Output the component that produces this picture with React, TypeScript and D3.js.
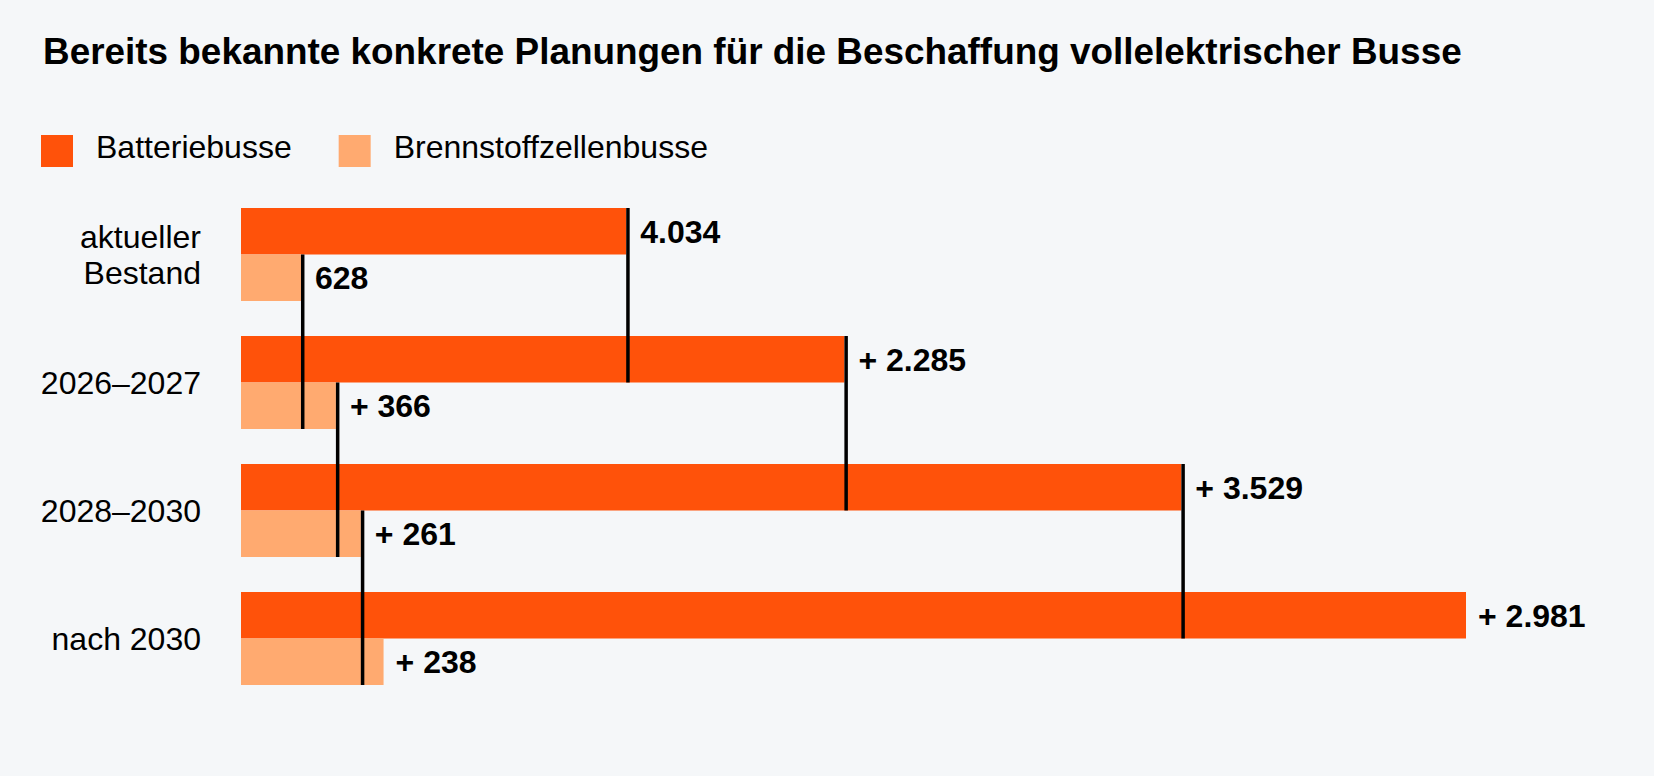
import { useEffect, useRef } from "react";
import * as d3 from "d3";

const title = "Bereits bekannte konkrete Planungen für die Beschaffung vollelektrischer Busse";
const seriesNames = ["Batteriebusse", "Brennstoffzellenbusse"];
const categories = ["aktueller Bestand", "2026–2027", "2028–2030", "nach 2030"];
const categoryLines = [["aktueller", "Bestand"], ["2026–2027"], ["2028–2030"], ["nach 2030"]];
const batterie = [4034, 2285, 3529, 2981];
const brennstoff = [628, 366, 261, 238];

const W = 1654;
const H = 776;
const colors = ["#ff520a", "#ffaa70"];
const bg = "#f5f7f9";
const font = "'Liberation Sans', Arial, Helvetica, sans-serif";

export default function App() {
  const ref = useRef<SVGSVGElement>(null);

  useEffect(() => {
    document.body.style.margin = "0";
    document.body.style.background = bg;
    if (!ref.current) return;
    const svg = d3.select(ref.current);
    svg.selectAll("*").remove();

    svg.append("rect").attr("width", W).attr("height", H).attr("fill", bg);

    // title
    svg.append("text")
      .attr("x", 43).attr("y", 64)
      .attr("font-family", font).attr("font-weight", 700).attr("font-size", 36.9)
      .attr("fill", "#000")
      .text(title);

    // legend
    let lx = 41;
    seriesNames.forEach((name, i) => {
      svg.append("rect")
        .attr("x", lx).attr("y", 135).attr("width", 32).attr("height", 32)
        .attr("fill", colors[i]);
      const t = svg.append("text")
        .attr("x", lx + 55).attr("y", 158)
        .attr("font-family", font).attr("font-size", 32).attr("fill", "#000")
        .text(name);
      const tw = (t.node() as SVGTextElement).getComputedTextLength();
      lx = lx + 55 + tw + 47;
    });

    const series = [batterie, brennstoff];
    const cums = series.map((s) => Array.from(d3.cumsum(s)));
    const maxTotal = d3.max(cums[0]) as number;

    const x = d3.scaleLinear().domain([0, maxTotal]).range([241, 1466]);
    const y = d3.scaleBand<string>()
      .domain(categories)
      .range([208, 685])
      .paddingInner(35 / 128)
      .paddingOuter(0);
    const sub = d3.scaleBand<number>().domain([0, 1]).range([0, y.bandwidth()]);

    const fmt = d3.formatLocale({ decimal: ",", thousands: ".", grouping: [3], currency: ["", "€"] }).format(",d");

    // bars
    series.forEach((s, k) => {
      svg.append("g")
        .selectAll("rect")
        .data(categories)
        .join("rect")
        .attr("x", x(0))
        .attr("y", (c) => (y(c) as number) + (sub(k) as number))
        .attr("width", (_c, i) => x(cums[k][i]) - x(0))
        .attr("height", sub.bandwidth())
        .attr("fill", colors[k]);
    });

    // connector lines
    series.forEach((_s, k) => {
      svg.append("g")
        .selectAll("line")
        .data(categories.slice(0, -1))
        .join("line")
        .attr("x1", (_c, i) => x(cums[k][i]) + 1.75)
        .attr("x2", (_c, i) => x(cums[k][i]) + 1.75)
        .attr("y1", (c) => (y(c) as number) + (sub(k) as number))
        .attr("y2", (_c, i) => (y(categories[i + 1]) as number) + (sub(k) as number) + sub.bandwidth())
        .attr("stroke", "#000")
        .attr("stroke-width", 3.5);
    });

    // value labels
    series.forEach((s, k) => {
      svg.append("g")
        .selectAll("text")
        .data(categories)
        .join("text")
        .attr("x", (_c, i) => x(cums[k][i]) + (i < categories.length - 1 ? 14 : 12))
        .attr("y", (c) => (y(c) as number) + (sub(k) as number) + sub.bandwidth() / 2 + 11.5)
        .attr("font-family", font).attr("font-weight", 700).attr("font-size", 32)
        .attr("fill", "#000")
        .text((_c, i) => (i === 0 ? "" : "+ ") + fmt(s[i]));
    });

    // category labels
    categories.forEach((c, i) => {
      const lines = categoryLines[i];
      const lh = 36.5;
      const cy = (y(c) as number) + y.bandwidth() / 2;
      const t = svg.append("text")
        .attr("text-anchor", "end")
        .attr("font-family", font).attr("font-size", 32).attr("fill", "#000");
      lines.forEach((ln, j) => {
        t.append("tspan")
          .attr("x", 201)
          .attr("y", cy + 11.5 + (j - (lines.length - 1) / 2) * lh)
          .text(ln);
      });
    });
  }, []);

  return <svg ref={ref} width={W} height={H} style={{ display: "block" }} />;
}
